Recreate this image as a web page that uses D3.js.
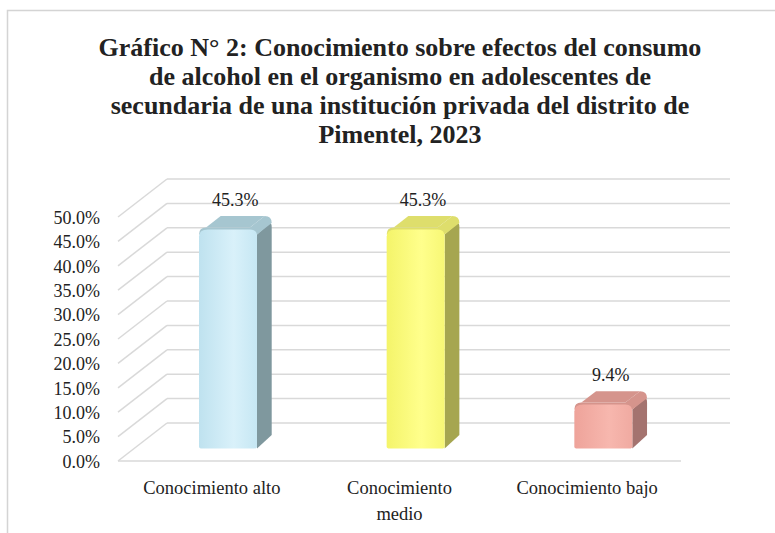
<!DOCTYPE html>
<html><head><meta charset="utf-8">
<script src="https://cdn.jsdelivr.net/npm/d3@7"></script>
<style>body{margin:0;background:#fff;} svg{display:block;} text{font-family:"Liberation Serif","Times New Roman",serif;}</style>
</head><body>
<script>
const categories = ["Conocimiento alto", "Conocimiento medio", "Conocimiento bajo"];
const categoryLines = [["Conocimiento alto"], ["Conocimiento", "medio"], ["Conocimiento bajo"]];
const values = [45.3, 45.3, 9.4];
const valueLabels = ["45.3%", "45.3%", "9.4%"];
const yTicks = [0, 5, 10, 15, 20, 25, 30, 35, 40, 45, 50];
const titleLines = [
  "Gráfico N° 2: Conocimiento sobre efectos del consumo",
  "de alcohol en el organismo en adolescentes de",
  "secundaria de una institución privada del distrito de",
  "Pimentel, 2023"
];
const palette = [
  {front:["#bfe2ef","#d9f1fa","#c6e7f3"], side:"#7f989e", top:"#a6c6d0"},
  {front:["#f4f46a","#ffff8c","#f7f775"], side:"#a6a650", top:"#dede6c"},
  {front:["#eea39a","#f7b7ae","#f0aaa1"], side:"#a4736f", top:"#d5948c"}
];

const FONT = "'Liberation Serif','Times New Roman',serif";
const W = 775, H = 533;
const svg = d3.select("body").append("svg").attr("width", W).attr("height", H);
const defs = svg.append("defs");

// border
svg.append("rect").attr("x", 7.5).attr("y", 10.5).attr("width", 800).attr("height", 600)
  .attr("fill", "none").attr("stroke", "#d4d4d4").attr("stroke-width", 1.5);

// title
const title = svg.append("text").style("font-family", FONT)
  .attr("font-weight", "bold").attr("font-size", 26).attr("fill", "#222").attr("text-anchor", "middle");
titleLines.forEach((t, i) => {
  title.append("tspan").attr("x", 400).attr("y", 56 + i * 29).text(t);
});

// geometry
const DX = 49, DY = 38;
const x = d3.scaleBand().domain(categories).range([118, 681]).padding(0);
const y = d3.scaleLinear().domain([0, 50]).range([461, 217]);

const grid = svg.append("g").attr("stroke", "#d9d9d9").attr("stroke-width", 1.5).attr("fill", "none");
yTicks.forEach(t => {
  grid.append("line").attr("x1", 118).attr("y1", y(t)).attr("x2", 118 + DX).attr("y2", y(t) - DY);
  grid.append("line").attr("x1", 118 + DX).attr("y1", y(t) - DY).attr("x2", 681 + DX).attr("y2", y(t) - DY);
});
grid.append("line").attr("x1", 118).attr("y1", y(0)).attr("x2", 681).attr("y2", y(0));

// y axis labels
const yAxis = d3.axisLeft(y).tickValues(yTicks).tickFormat(d => d.toFixed(1) + "%").tickSize(0).tickPadding(0);
const ya = svg.append("g").attr("transform", "translate(100,0)").call(yAxis);
ya.attr("font-family", null);
ya.select(".domain").remove();
ya.selectAll("text").style("font-family", FONT)
  .attr("font-size", 18).attr("fill", "#222").attr("dy", "0.35em");

// bars
const z0 = 0.33, z1 = 0.63;
const bw = 58;
const bars = svg.append("g");
categories.forEach((c, i) => {
  const p = palette[i];
  const gid = "g" + i;
  const lg = defs.append("linearGradient").attr("id", gid).attr("x1", 0).attr("x2", 1).attr("y1", 0).attr("y2", 0);
  lg.append("stop").attr("offset", "0").attr("stop-color", p.front[0]);
  lg.append("stop").attr("offset", "0.6").attr("stop-color", p.front[1]);
  lg.append("stop").attr("offset", "1").attr("stop-color", p.front[2]);

  const cx = x(c) + x.bandwidth() / 2 + DX * z0;
  const x0 = cx - bw / 2, x1 = cx + bw / 2;
  const yb = y(0) - DY * z0, yt = y(values[i]) - DY * z0;
  const ddx = DX * (z1 - z0), ddy = DY * (z1 - z0);
  const r = 7;
  // side
  bars.append("path").attr("fill", p.side)
    .attr("d", `M${x1},${yt + r} L${x1 + ddx - 2},${yt - ddy + r} Q${x1 + ddx},${yt - ddy + r} ${x1 + ddx},${yt - ddy + r + 4} L${x1 + ddx},${yb - ddy - 2} L${x1},${yb} Z`);
  // top
  bars.append("path").attr("fill", p.top)
    .attr("d", `M${x0},${yt + r} Q${x0},${yt} ${x0 + r},${yt} L${x1 - r},${yt} L${x1 + ddx - r},${yt - ddy} Q${x1 + ddx},${yt - ddy} ${x1 + ddx},${yt - ddy + r} L${x1},${yt + r} Z`);
  bars.append("path").attr("fill", p.top)
    .attr("d", `M${x0 + r},${yt} L${x0 + ddx + r},${yt - ddy} L${x1 + ddx - r},${yt - ddy} L${x1 - r},${yt} Z`);
  // front
  bars.append("path").attr("fill", `url(#${gid})`)
    .attr("d", `M${x0},${yb - 2} L${x0},${yt + r + 2} Q${x0},${yt + 2} ${x0 + r + 2},${yt + 2} L${x1 - r},${yt + 2} Q${x1},${yt + 2} ${x1},${yt + r + 2} L${x1},${yb - 2} Q${x1},${yb} ${x1 - 3},${yb} L${x0 + 3},${yb} Q${x0},${yb} ${x0},${yb - 2} Z`);
  // value label
  svg.append("text").attr("x", cx + ddx / 2).attr("y", yt - ddy - 10)
    .attr("text-anchor", "middle").style("font-family", FONT)
    .attr("font-size", 18).attr("fill", "#222").text(valueLabels[i]);
});

// category labels
categories.forEach((c, i) => {
  const t = svg.append("text").attr("text-anchor", "middle")
    .style("font-family", FONT).attr("font-size", 18.5).attr("fill", "#222");
  categoryLines[i].forEach((ln, j) => {
    t.append("tspan").attr("x", x(c) + x.bandwidth() / 2).attr("y", 494 + j * 26).text(ln);
  });
});
</script>
</body></html>
